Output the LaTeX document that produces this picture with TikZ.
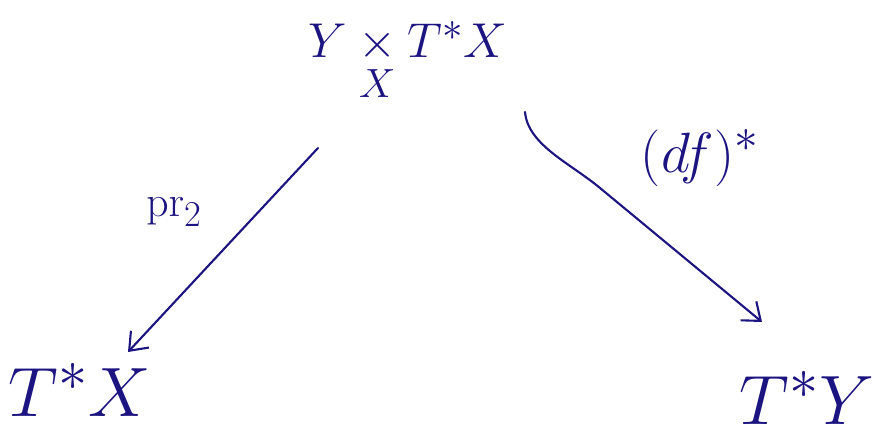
\documentclass[tikz,border=0pt]{standalone}
\usepackage{amsmath, amssymb}
\usetikzlibrary{arrows.meta}
\definecolor{ink}{HTML}{1C1480}

\begin{document}
\begin{tikzpicture}[x=0.02cm, y=-0.02cm, color=ink, line width=1.2pt,
    obj/.style={inner sep=0pt, font=\Huge, scale=1.6},
    lbl/.style={inner sep=0pt, font=\Huge},
    arr/.style={-{Straight Barb[length=9pt, width=14pt, line width=1.2pt]}, line cap=round}]
    \useasboundingbox (0,0) rectangle (877,438);

    % Objects
    \node[obj, scale=1.12/1.6] (fib) at (408,62) {$Y\underset{X}{\times}T^*X$};
    \node[obj] (tx) at (80,390) {$T^*X$};
    \node[obj] (ty) at (807,398) {$T^*Y$};

    % Arrows
    \draw[arr] ([shift={(-90,86)}]fib.center) -- ([shift={(48,-38)}]tx.center);
    \draw[arr] ([shift={(117,50)}]fib.center) .. controls +(3,33) and +(-30,-25) .. (600,188)
        -- ([shift={(-45,-76)}]ty.center);

    % Labels
    \node[lbl] (pr) at (174,212) {$\mathrm{pr}_2$};
    \node[lbl, scale=1.3] (df) at (700,158) {$(df)^*$};
\end{tikzpicture}
\end{document}
